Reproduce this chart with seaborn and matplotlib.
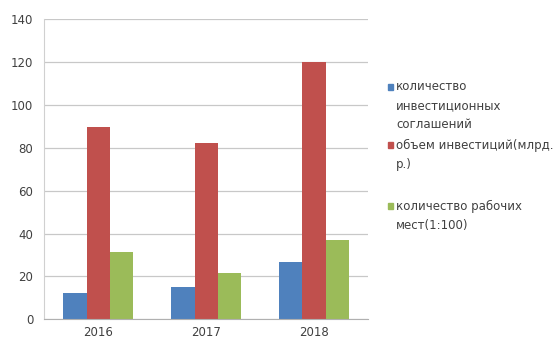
import matplotlib
matplotlib.use("Agg")
import matplotlib.pyplot as plt
from matplotlib.patches import Rectangle
import seaborn as sns
import pandas as pd

years = ["2016", "2017", "2018"]
series_names = [
    "количество инвестиционных соглашений",
    "объем инвестиций(млрд. р.)",
    "количество рабочих мест(1:100)",
]
legend_lines = [
    ["количество", "инвестиционных", "соглашений"],
    ["объем инвестиций(млрд.", "р.)"],
    ["количество рабочих", "мест(1:100)"],
]
agreements = [12.4, 14.9, 26.9]
investments = [89.7, 82.3, 119.8]
jobs = [31.5, 21.7, 37.0]
colors = ["#4F81BD", "#C0504D", "#9BBB59"]

rows = []
for name, vals in zip(series_names, [agreements, investments, jobs]):
    for y, v in zip(years, vals):
        rows.append({"year": y, "series": name, "value": v})
df = pd.DataFrame(rows)

sns.set_style("white")
plt.rcParams["font.family"] = ["DejaVu Sans"]

W, H = 557, 342
fig = plt.figure(figsize=(W / 100, H / 100), dpi=100)
ax = fig.add_axes([0.0795, 0.0664, 0.5815, 0.8776])

sns.barplot(data=df, x="year", y="value", hue="series", palette=colors,
            width=0.65, gap=0, saturation=1, ax=ax, legend=False,
            linewidth=0, edgecolor="none")

ax.set_ylim(0, 140)
ax.set_yticks(range(0, 141, 20))
ax.set_xlim(-0.5, 2.5)
ax.yaxis.grid(True, color="#C8C8C8", linewidth=0.9)
ax.set_axisbelow(True)
ax.set_xlabel("")
ax.set_ylabel("")
for s in ["top", "right"]:
    ax.spines[s].set_visible(False)
ax.spines["left"].set_color("#D0D0D0")
ax.spines["bottom"].set_color("#B0B0B0")
ax.tick_params(axis="y", length=0, labelsize=8.5, labelcolor="#404040", pad=8)
ax.tick_params(axis="x", length=0, labelsize=8.5, labelcolor="#404040", pad=5)
ax.set_xticks([0.5, 1.5], minor=True)
ax.tick_params(axis="x", which="minor", length=3, color="#B0B0B0")

# legend (entries with wrapped text, marker aligned to first line)
line_y = [[86.5, 105.5, 125], [145, 165], [206, 225]]
for color, lines, ys in zip(colors, legend_lines, line_y):
    fig.patches.append(Rectangle((388 / W, 1 - (ys[0] + 3) / H), 5 / W, 6 / H,
                                 transform=fig.transFigure, color=color,
                                 figure=fig))
    for txt, yy in zip(lines, ys):
        fig.text(396 / W, 1 - yy / H, txt, fontsize=8.5, color="#404040",
                 va="center", ha="left")

fig.savefig("out.png", dpi=100)
